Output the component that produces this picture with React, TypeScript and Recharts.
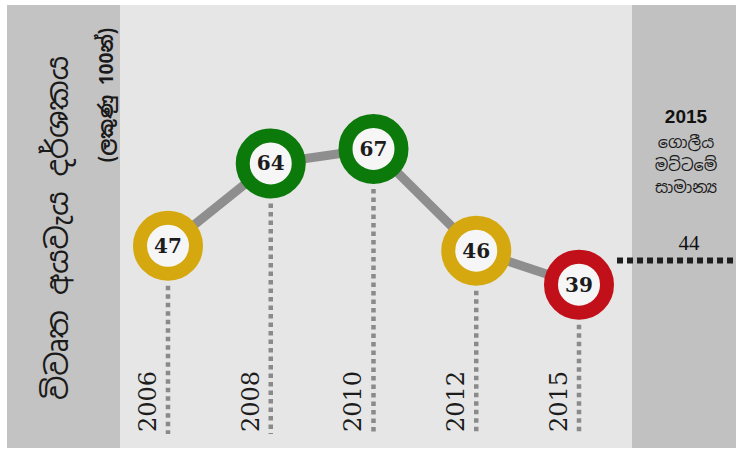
import { ComposedChart, Line, ReferenceLine, XAxis, YAxis } from "recharts";

// Open Budget Index, Sri Lanka (score out of 100)
const years = ["2006", "2008", "2010", "2012", "2015"];
const scores = [47, 64, 67, 46, 39];
const globalAverage = 44;
const globalAverageYear = "2015";

const titleText = "විවෘත අයවැය දර්ශකය";
const subtitleText = "(ලකුණු 100න්)";
const averageLines = ["ගොලීය", "මට්ටමේ", "සාමාන්‍ය"];

const data = years.map((year, idx) => ({ idx, year, score: scores[idx] }));

const W = 736;
const H = 451;
const SINHALA = "'Noto Sans Sinhala', 'Iskoola Pota', 'Noto Sans', sans-serif";
const SLAB = "'DejaVu Serif', serif";

const bandColor = (score: number) =>
  score > 60 ? "#0b7a0b" : score > 40 ? "#d4a80e" : "#c2101a";

const ScoreDot = (props: any) => {
  const { cx, cy, payload } = props;
  if (cx == null || cy == null) return null;
  const color = bandColor(payload.score);
  const yx = cx - 12;
  return (
    <g key={`dot-${payload.year}`}>
      <line
        x1={cx}
        x2={cx}
        y1={cy + 40}
        y2={434}
        stroke="#8a8a8a"
        strokeWidth={4.5}
        strokeDasharray="4.5 4"
      />
      <circle cx={cx} cy={cy} r={28} fill="#f6f6f6" stroke={color} strokeWidth={14} />
      <text
        x={cx}
        y={cy + 7}
        textAnchor="middle"
        fontSize={20}
        fontWeight="bold"
        fontFamily={SLAB}
        fill="#1c1c1c"
      >
        {payload.score}
      </text>
      <text
        x={yx}
        y={432}
        transform={`rotate(-90 ${yx} 432)`}
        fontSize={24}
        fontFamily={SLAB}
        fill="#1c1c1c"
      >
        {payload.year}
      </text>
    </g>
  );
};

export default function App() {
  const avgIdx = years.indexOf(globalAverageYear);
  return (
    <div style={{ position: "absolute", left: 0, top: 0, width: W, height: H, background: "#fff" }}>
      <div style={{ position: "absolute", left: 7, top: 5, width: 113, height: 443, background: "#c3c3c3" }} />
      <div style={{ position: "absolute", left: 120, top: 5, width: 512, height: 443, background: "#e6e6e6" }} />
      <div style={{ position: "absolute", left: 632, top: 5, width: 104, height: 443, background: "#c1c1c1" }} />
      <div style={{ position: "absolute", left: 0, top: 0 }}>
        <ComposedChart width={W} height={H} data={data} margin={{ top: 0, right: 0, bottom: 0, left: 0 }}>
          <XAxis type="number" dataKey="idx" domain={[-1.635, 5.528]} hide />
          <YAxis type="number" domain={[4.7, 97.7]} hide />
          <ReferenceLine
            segment={[
              { x: avgIdx + 0.37, y: globalAverage },
              { x: 5.528, y: globalAverage },
            ]}
            stroke="#1e1e1e"
            strokeWidth={6}
            strokeDasharray="6 4"
          />
          <Line
            type="linear"
            dataKey="score"
            stroke="#8e8e8e"
            strokeWidth={9}
            dot={ScoreDot}
            activeDot={false}
            isAnimationActive={false}
          />
          <g>
            <text
              x={68}
              y={228}
              transform="rotate(-90 68 228)"
              textAnchor="middle"
              fontSize={30}
              fontFamily={SINHALA}
              fill="#1a1a1a"
            >
              {titleText}
            </text>
            <text
              x={113}
              y={95}
              transform="rotate(-90 113 95)"
              textAnchor="middle"
              fontSize={19}
              fontWeight="bold"
              fontFamily={SINHALA}
              fill="#1a1a1a"
            >
              {subtitleText}
            </text>
            <text
              x={686}
              y={123}
              textAnchor="middle"
              fontSize={19}
              fontWeight="bold"
              fontFamily="'Liberation Sans', Arial, sans-serif"
              fill="#111"
            >
              {globalAverageYear}
            </text>
            {averageLines.map((t, i) => (
              <text
                key={t}
                x={686}
                y={148 + i * 22.5}
                textAnchor="middle"
                fontSize={16}
                fontFamily={SINHALA}
                fill="#1a1a1a"
              >
                {t}
              </text>
            ))}
            <text
              x={689}
              y={250}
              textAnchor="middle"
              fontSize={21}
              fontFamily="'Liberation Serif', serif"
              fill="#111"
            >
              {globalAverage}
            </text>
          </g>
        </ComposedChart>
      </div>
    </div>
  );
}
